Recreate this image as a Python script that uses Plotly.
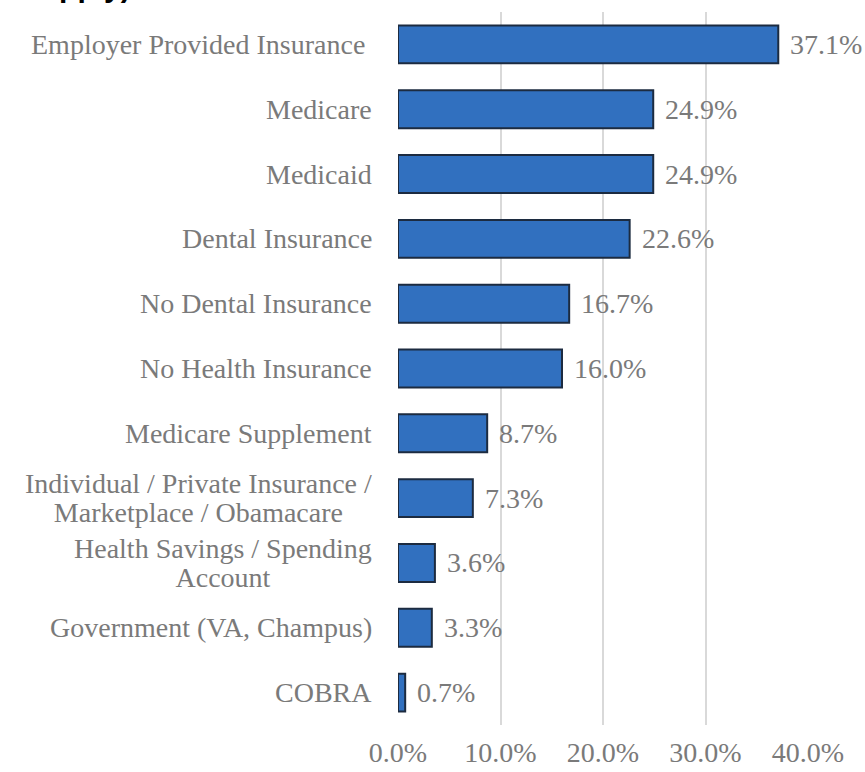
import plotly.graph_objects as go

# Survey responses: type of insurance coverage
categories = [
    "Employer Provided Insurance ",
    "Medicare",
    "Medicaid",
    "Dental Insurance",
    "No Dental Insurance",
    "No Health Insurance",
    "Medicare Supplement",
    "Individual / Private Insurance /<br>Marketplace / Obamacare",
    "Health Savings / Spending<br>Account",
    "Government (VA, Champus)",
    "COBRA",
]
percent = [37.1, 24.9, 24.9, 22.6, 16.7, 16.0, 8.7, 7.3, 3.6, 3.3, 0.7]
tick_vals = [0, 10, 20, 30, 40]
tick_text = ["0.0%", "10.0%", "20.0%", "30.0%", "40.0%"]
title_text = "(Check all that apply)"

W, H = 865, 772
ML, MR, MT, MB = 398, 57, 12, 47
plot_w = W - ML - MR
plot_h = H - MT - MB

label_font = "Liberation Serif"
label_color = "#7a7a7a"
fs = 28

fig = go.Figure()
fig.add_trace(go.Bar(
    x=percent,
    y=categories,
    orientation="h",
    marker=dict(color="#3170bf", line=dict(color="#1c2b40", width=2)),
    hoverinfo="skip",
))

annotations = []
# category labels (centred lines, right-aligned block, tight line spacing)
label_right = (374 - ML) / plot_w
for c in categories:
    annotations.append(dict(
        x=label_right, xref="paper", y=c, yref="y",
        text=f'<span style="font-size:{fs}px">{c}</span>',
        showarrow=False, xanchor="right", yanchor="middle", align="center",
        font=dict(family=label_font, size=22.5, color=label_color),
    ))
# value labels
for c, v in zip(categories, percent):
    annotations.append(dict(
        x=v, xref="x", y=c, yref="y",
        text=f"{v:.1f}%", showarrow=False, xanchor="left", yanchor="middle",
        xshift=10,
        font=dict(family=label_font, size=fs, color=label_color),
    ))
# heading (runs off the top of the page)
annotations.append(dict(
    x=(133 - ML) / plot_w, xref="paper", y=(H - MB - 5) / plot_h, yref="paper",
    text=f"<b>{title_text}</b>", showarrow=False, xanchor="right", yanchor="bottom",
    font=dict(family="Liberation Sans", size=30, color="#000000"),
))

fig.update_layout(
    width=W, height=H,
    margin=dict(l=ML, r=MR, t=MT, b=MB, autoexpand=False),
    paper_bgcolor="white", plot_bgcolor="white",
    bargap=0.415,
    showlegend=False,
    annotations=annotations,
    xaxis=dict(
        range=[0, 40], tickvals=tick_vals, ticktext=tick_text,
        showgrid=True, gridcolor="#d9d9d9", gridwidth=2,
        zeroline=False, showline=False, ticks="",
        tickfont=dict(family=label_font, size=fs, color=label_color),
        ticklabelstandoff=8, automargin=False,
    ),
    yaxis=dict(
        autorange="reversed", showticklabels=False, showgrid=False,
        zeroline=False, showline=False, ticks="", automargin=False,
    ),
)

fig.write_html("out.html")
